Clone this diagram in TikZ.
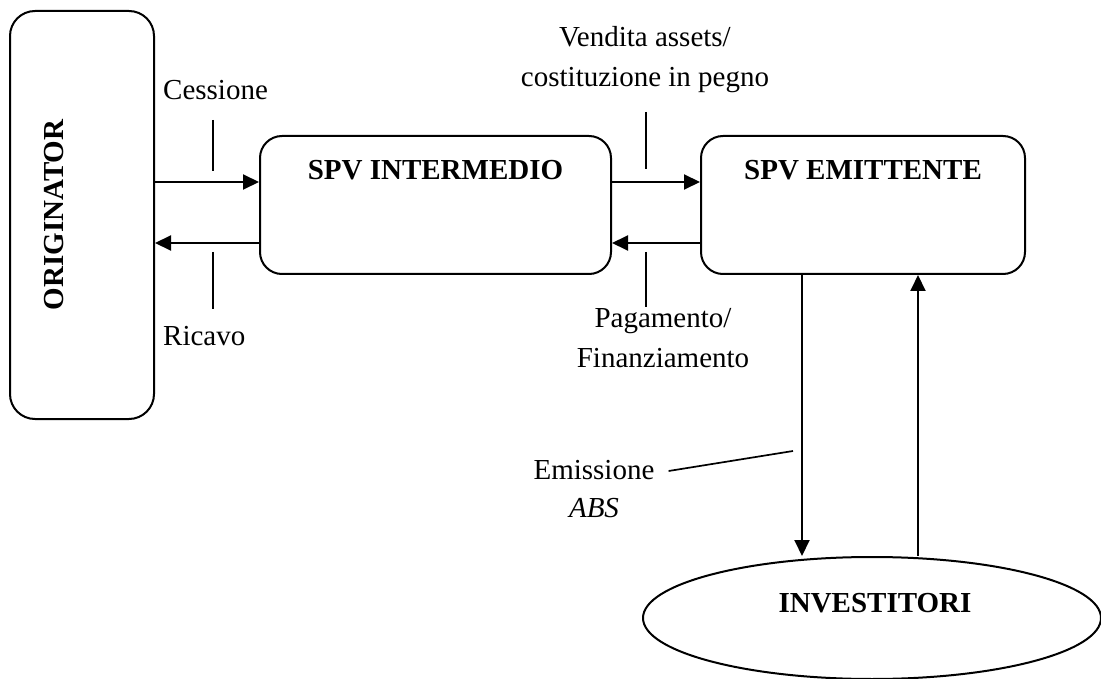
\documentclass[tikz,border=0pt]{standalone}
\usepackage{fontspec}
\setmainfont{Liberation Serif}
\usetikzlibrary{arrows.meta,shapes.geometric}

\tikzset{
  every picture/.style={x=1pt,y=-1pt},
  frame/.style={draw,line width=2pt,rounded corners=22pt,inner sep=0pt},
  party/.style={font=\fontsize{29}{35}\selectfont\bfseries,inner sep=0pt,anchor=base},
  lbl/.style={font=\fontsize{29}{35}\selectfont,inner sep=0pt,anchor=base},
  flow/.style={line width=2pt,-{Triangle[length=16pt,width=15pt]}},
  tick/.style={line width=2pt},
}

\begin{document}
\begin{tikzpicture}
  \useasboundingbox (0,0) rectangle (1101,679);
  \clip (0,0) rectangle (1101,679);

  % parties
  \node[frame,rounded corners=25pt,minimum width=144pt,minimum height=408pt] (orig) at (82,215) {};
  \node[party,rotate=90] (origt) at (63,215) {ORIGINATOR};

  \node[frame,minimum width=351pt,minimum height=138pt] (spvi) at (435.5,205) {};
  \node[party] (spvit) at ([yshift=-45pt]spvi.north) {SPV INTERMEDIO};

  \node[frame,minimum width=324pt,minimum height=138pt] (spve) at (863,205) {};
  \node[party] (spvet) at ([yshift=-45pt]spve.north) {SPV EMITTENTE};

  \node[draw,ellipse,line width=2pt,inner sep=0pt,minimum width=458pt,minimum height=122pt] (inv) at (872,618) {};
  \node[party] (invt) at (875,612) {INVESTITORI};

  % levels of the horizontal flows and columns of the vertical ones
  \coordinate (hi) at (0,182);
  \coordinate (lo) at (0,243);
  \coordinate (dn) at (802,0);
  \coordinate (up) at (918,0);

  % flows
  \draw[flow] (orig.east |- hi) -- (spvi.west |- hi);
  \draw[flow] (spvi.west |- lo) -- (orig.east |- lo);
  \draw[flow] (spvi.east |- hi) -- (spve.west |- hi);
  \draw[flow] (spve.west |- lo) -- (spvi.east |- lo);
  \draw[flow] (spve.south -| dn) -- (inv.north -| dn);
  \draw[flow] (inv.north -| up) -- (spve.south -| up);

  % labels with their leader strokes
  \node[lbl,anchor=base west] (ces) at (163,100) {Cessione};
  \draw[tick] (213,120) -- (213,171);
  \node[lbl,anchor=base west] (ric) at (163,345) {Ricavo};
  \draw[tick] (213,252) -- (213,309);

  \node[lbl] (ven1) at (645,47) {Vendita assets/};
  \node[lbl] (ven2) at (645,87) {costituzione in pegno};
  \draw[tick] (646,112) -- (646,169);

  \node[lbl] (pag1) at (663,327) {Pagamento/};
  \node[lbl] (pag2) at (663,367) {Finanziamento};
  \draw[tick] (646,252) -- (646,307);

  \node[lbl] (emi) at (594,479) {Emissione};
  \node[lbl] (abs) at (594,517) {\textit{ABS}};
  \coordinate (emiend) at (793,451);
  \draw[tick,line width=1.7pt] ([shift={(14pt,8pt)}]emi.base east) -- (emiend);
\end{tikzpicture}
\end{document}
